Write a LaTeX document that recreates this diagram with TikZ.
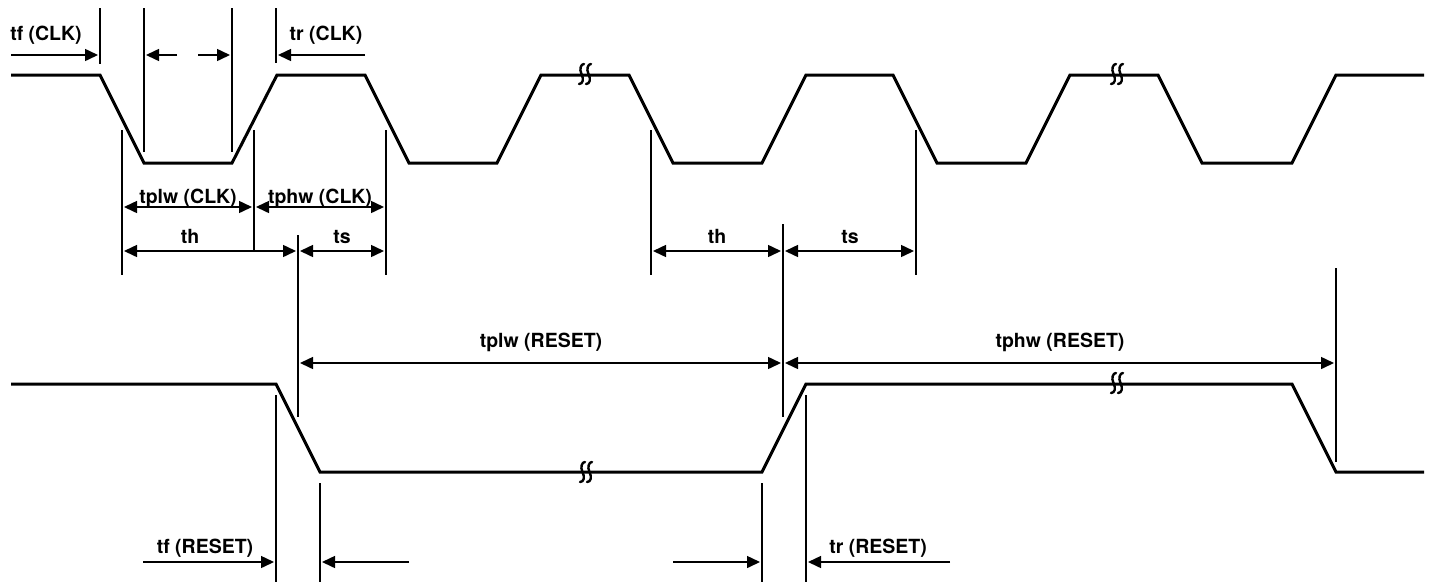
\documentclass[tikz,border=0pt]{standalone}
\usepackage{fontspec}
\setmainfont{TeX Gyre Heros}
\usetikzlibrary{arrows.meta}
\begin{document}
\begin{tikzpicture}[x=1pt,y=-1pt,
  wave/.style={line width=3pt,line join=miter,line cap=butt},
  guide/.style={line width=1.5pt},
  dim/.style={line width=1.5pt,-{Triangle[length=13pt,width=12pt]}},
  dimboth/.style={line width=1.5pt,{Triangle[length=13pt,width=12pt]}-{Triangle[length=13pt,width=12pt]}},
  lbl/.style={font=\fontsize{19.5}{22}\selectfont\bfseries,inner sep=0pt,anchor=base},
  brkstroke/.style={line width=2.4pt,line cap=round},
  brk/.pic={
    \draw[brkstroke] (-1,-10) .. controls (-4,-10) and (-6,-5) .. (-3.5,0) .. controls (-1,5) and (-2,10) .. (-6,10);
    \draw[brkstroke] (6,-10) .. controls (3,-10) and (1,-5) .. (3.5,0) .. controls (6,5) and (5,10) .. (1,10);
  }]
\useasboundingbox (0,0) rectangle (1432,582);
% CLK waveform
\draw[wave] (11,75) -- (100,75) -- (144,163) -- (232,163) -- (277,75) -- (365,75)
  -- (409,163) -- (497,163) -- (541,75) -- (629,75) -- (673,163) -- (762,163)
  -- (806,75) -- (893,75) -- (937,163) -- (1026,163) -- (1070,75) -- (1158,75)
  -- (1202,163) -- (1292,163) -- (1336,75) -- (1424,75);
\pic at (585,74) {brk};
\pic at (1117,74) {brk};
% RESET waveform
\draw[wave] (11,384) -- (276,384) -- (320,472) -- (762,472) -- (806,384)
  -- (1292,384) -- (1336,472) -- (1424,472);
\pic at (586,472) {brk};
\pic at (1117,383) {brk};
% guide lines
\draw[guide] (100,8) -- (100,64);
\draw[guide] (144,8) -- (144,152);
\draw[guide] (232,8) -- (232,152);
\draw[guide] (276,8) -- (276,63);
\draw[guide] (122,130) -- (122,275);
\draw[guide] (254,130) -- (254,251);
\draw[guide] (298,235) -- (298,417);
\draw[guide] (386,130) -- (386,275);
\draw[guide] (651,130) -- (651,275);
\draw[guide] (783,224) -- (783,417);
\draw[guide] (916,130) -- (916,275);
\draw[guide] (1336,268) -- (1336,462);
\draw[guide] (276,395) -- (276,582);
\draw[guide] (320,483) -- (320,582);
\draw[guide] (762,483) -- (762,582);
\draw[guide] (806,395) -- (806,582);
% top arrows
\draw[dim] (11,55) -- (98,55);
\draw[dim] (177,55) -- (146,55);
\draw[dim] (198,55) -- (230,55);
\draw[dim] (365,55) -- (278,55);
\node[lbl] (tfclk) at (46,40) {tf (CLK)};
\node[lbl] (trclk) at (326,40) {tr (CLK)};
% clk pulse widths
\draw[dimboth] (124,207) -- (252,207);
\draw[dimboth] (256,207) -- (384,207);
\node[lbl] (tplwclk) at (188,203) {tplw (CLK)};
\node[lbl] (tphwclk) at (320,203) {tphw (CLK)};
% hold / setup
\draw[dimboth] (124,251) -- (296,251);
\draw[dimboth] (300,251) -- (384,251);
\node[lbl] (th1) at (190,243) {th};
\node[lbl] (ts1) at (342,243) {ts};
\draw[dimboth] (653,251) -- (781,251);
\draw[dimboth] (785,251) -- (914,251);
\node[lbl] (th2) at (717,243) {th};
\node[lbl] (ts2) at (850,243) {ts};
% reset pulse widths
\draw[dimboth] (300,363) -- (781,363);
\draw[dimboth] (785,363) -- (1334,363);
\node[lbl] (tplwrst) at (541,347) {tplw (RESET)};
\node[lbl] (tphwrst) at (1060,347) {tphw (RESET)};
% bottom arrows
\draw[dim] (143,562) -- (274,562);
\draw[dim] (409,562) -- (322,562);
\draw[dim] (673,562) -- (760,562);
\draw[dim] (950,562) -- (808,562);
\node[lbl] (tfrst) at (205,553) {tf (RESET)};
\node[lbl] (trrst) at (878,553) {tr (RESET)};
\end{tikzpicture}
\end{document}
